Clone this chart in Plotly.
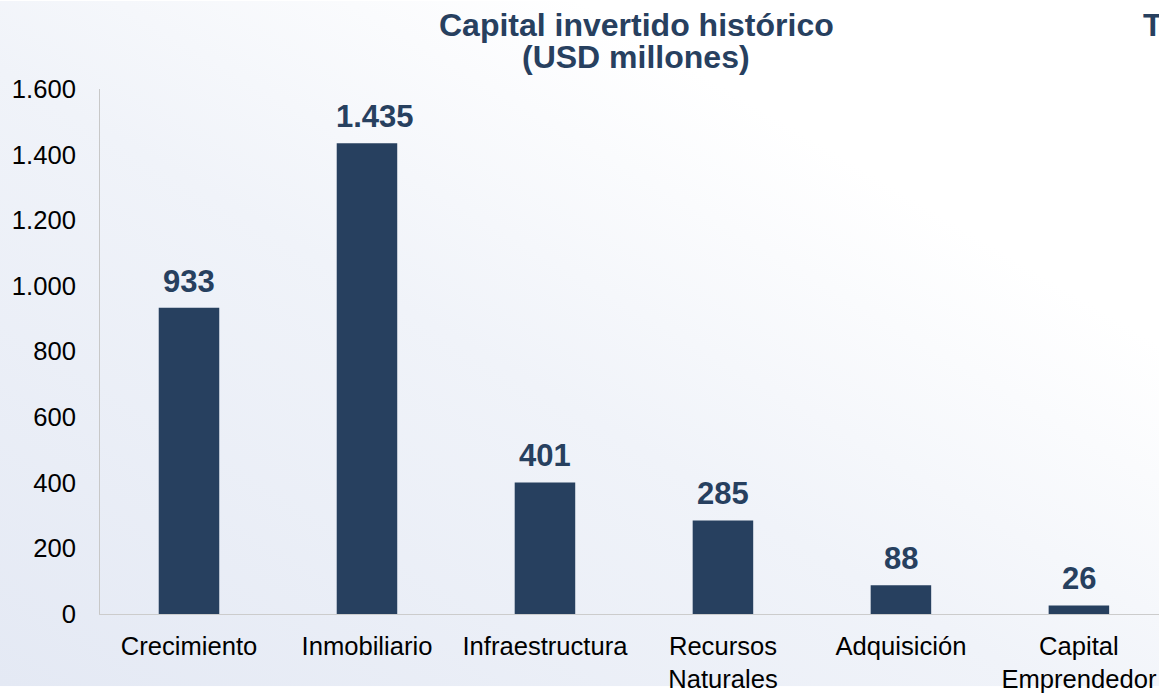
import base64
import plotly.graph_objects as go

# Datos del gráfico
categorias = ["Crecimiento", "Inmobiliario", "Infraestructura", "Recursos<br>Naturales",
              "Adquisición", "Capital<br>Emprendedor"]
capital = [933, 1435, 401, 285, 88, 26]
y_ticks = [0, 200, 400, 600, 800, 1000, 1200, 1400, 1600]

azul = "#27405f"
fuente = "Liberation Sans, Arial"
W, H = 1159, 693
ml, mr, mt, mb = 100, 0, 89, 73
pw, ph = W - ml - mr, H - mt - mb

# Fondo degradado (svg embebido)
svg = (
    '<svg xmlns="http://www.w3.org/2000/svg" width="400" height="240" preserveAspectRatio="none">'
    '<defs><linearGradient id="g" x1="0" y1="1" x2="1" y2="0">'
    '<stop offset="0" stop-color="#e4e9f4"/><stop offset="0.45" stop-color="#f0f3f9"/>'
    '<stop offset="0.75" stop-color="#ffffff"/><stop offset="1" stop-color="#ffffff"/>'
    '</linearGradient></defs><rect width="400" height="240" fill="url(#g)"/></svg>'
)
fondo = "data:image/svg+xml;base64," + base64.b64encode(svg.encode()).decode()

fig = go.Figure(go.Bar(x=categorias, y=capital, marker_color=azul,
                       marker_line_width=0, hoverinfo="x+y"))

# Etiquetas de valor sobre las barras (la de 1.435 va algo corrida a la derecha)
for c, v in zip(categorias, capital):
    fig.add_annotation(x=c, y=v, text=f"<b>{v:,}</b>".replace(",", "."),
                       showarrow=False, yanchor="bottom", yshift=7,
                       xshift=8 if v >= 1000 else 0,
                       font=dict(size=31, color=azul, family=fuente))

# Título (dos líneas) y texto cortado a la derecha
titulo = ["Capital invertido histórico", "(USD millones)"]
for i, t in enumerate(titulo):
    fig.add_annotation(xref="paper", yref="paper", x=(636 - ml) / pw,
                       y=1 + (mt - 24 - 33 * i) / ph, text=f"<b>{t}</b>",
                       showarrow=False, xanchor="center", yanchor="middle",
                       font=dict(size=32, color=azul, family=fuente))
fig.add_annotation(xref="paper", yref="paper", x=(1141 - ml) / pw, y=1 + (mt - 24) / ph,
                   text="<b>T</b>", showarrow=False, xanchor="left", yanchor="middle",
                   font=dict(size=32, color=azul, family=fuente))

fig.update_layout(
    width=W, height=H,
    margin=dict(l=ml, r=mr, t=mt, b=mb, pad=0),
    paper_bgcolor="white", plot_bgcolor="rgba(0,0,0,0)",
    separators=",.",
    bargap=0.66,
    showlegend=False,
    font=dict(family=fuente, size=25.6, color="black"),
    images=[dict(source=fondo, xref="paper", yref="paper",
                 x=-ml / pw, y=1 + mt / ph, sizex=W / pw, sizey=H / ph,
                 sizing="stretch", layer="below", xanchor="left", yanchor="top")],
    xaxis=dict(range=[-0.5, 5.45], showline=True, linecolor="#cccccc", linewidth=1,
               ticks="", showgrid=False, tickfont=dict(size=25.6), ticklabelstandoff=9),
    yaxis=dict(range=[0, 1600], tickvals=y_ticks, tickformat=",d", showline=True,
               linecolor="#c8c8c8", linewidth=1, showgrid=False, zeroline=False,
               ticks="", tickfont=dict(size=25.6), ticklabelstandoff=18),
)

fig.write_html("out.html", config={"displayModeBar": False},
               post_script="document.body.style.margin='0';")
